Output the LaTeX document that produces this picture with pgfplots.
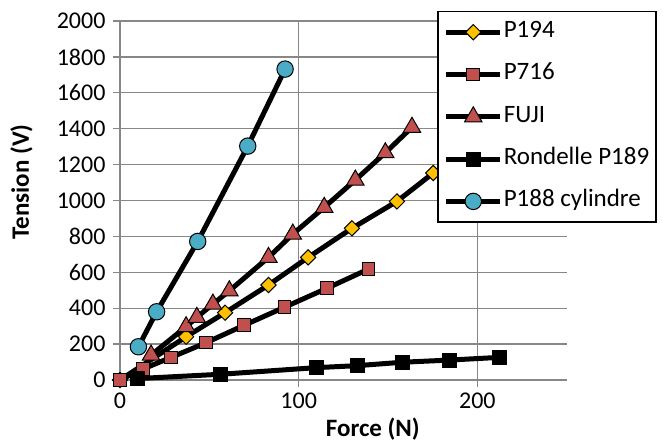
\documentclass[border=0pt]{standalone}
\usepackage{fontspec}
\setmainfont{Carlito}
\usepackage{pgfplots}
\pgfplotsset{compat=1.18}
\definecolor{cYel}{HTML}{FFC000}
\definecolor{cRed}{HTML}{C0504D}
\definecolor{cBlu}{HTML}{4BACC6}
\definecolor{cGrid}{HTML}{878787}
\begin{document}
\begin{tikzpicture}
\useasboundingbox (-120pt,-63pt) rectangle (543pt,380pt);
\begin{axis}[
  scale only axis,
  width=446.7pt, height=359pt,
  xmin=0, xmax=250, ymin=0, ymax=2000,
  xtick={0,100,200}, ytick={0,200,...,2000},
  axis x line=bottom, axis y line=left,
  axis line style={-, draw=cGrid, line width=1.3pt},
  grid=major,
  major grid style={draw=cGrid, line width=1.3pt},
  tick style={draw=cGrid, line width=1.3pt},
  tick align=outside, major tick length=7pt,
  /pgf/number format/assume math mode=true,
  /pgf/number format/1000 sep={},
  ticklabel style={font=\fontsize{24}{28}\selectfont},
  yticklabel style={xshift=-4pt},
  xticklabel style={yshift=-2pt},
  xlabel={\textbf{Force (N)}},
  ylabel={\textbf{Tension (V)}},
  xlabel style={at={(axis description cs:0.566,0)}, anchor=base, yshift=-57pt, inner sep=0pt, font=\fontsize{25}{30}\selectfont},
  ylabel style={at={(axis description cs:-0.246,0.552)}, anchor=north, inner sep=0pt, font=\fontsize{25}{30}\selectfont},
  every axis plot/.append style={line width=5pt, black},
  legend style={at={(axis description cs:0.7097,1.028)}, anchor=north west,
    draw=black, line width=1.5pt, fill=white,
    font=\fontsize{25}{30}\selectfont,
    inner xsep=6pt, inner ysep=8pt,
    row sep=17.3pt,
    nodes={inner sep=1pt, text height=17pt, text depth=6pt}},
  legend cell align=left,
  legend image code/.code={
    \draw[mark repeat=2, mark phase=2, #1] plot coordinates {(0pt,0pt) (27pt,0pt) (54pt,0pt)};
  },
  clip=false,
]
\addplot[mark=square*, mark size=5.4pt, mark options={rotate=45, fill=cYel, draw=black, line width=1pt}]
  coordinates {(0,0) (37,241) (58.8,375) (83.1,529) (105.3,683) (129.8,845) (155,995) (175.3,1153)};
\addlegendentry{P194}
\addplot[mark=square*, mark size=6.3pt, mark options={fill=cRed, draw=black, line width=1pt}]
  coordinates {(0,0) (13,62) (28.6,126) (48.2,208) (69.5,305) (92,405) (115.8,511) (139.1,618)};
\addlegendentry{P716}
\addplot[mark=triangle*, mark size=10pt, mark options={fill=cRed, draw=black, line width=1pt}]
  coordinates {(17.4,139) (37,297) (43,349) (52,423) (61.2,497) (83.1,683) (96.7,813) (114.3,962) (131.7,1114) (148.5,1266) (163.4,1408)};
\addlegendentry{FUJI}
\addplot[mark=square*, mark size=7pt, mark options={fill=black, draw=black, line width=1pt}]
  coordinates {(10,8) (56.4,32) (110.2,69) (132.9,80) (158.2,99) (184.3,111) (212.3,126)};
\addlegendentry{Rondelle P189}
\addplot[mark=*, mark size=8.2pt, mark options={fill=cBlu, draw=black, line width=1pt}]
  coordinates {(10.3,185) (20.5,380) (43.5,772) (71.5,1303) (92.4,1732)};
\addlegendentry{P188 cylindre}
\end{axis}
\end{tikzpicture}
\end{document}
